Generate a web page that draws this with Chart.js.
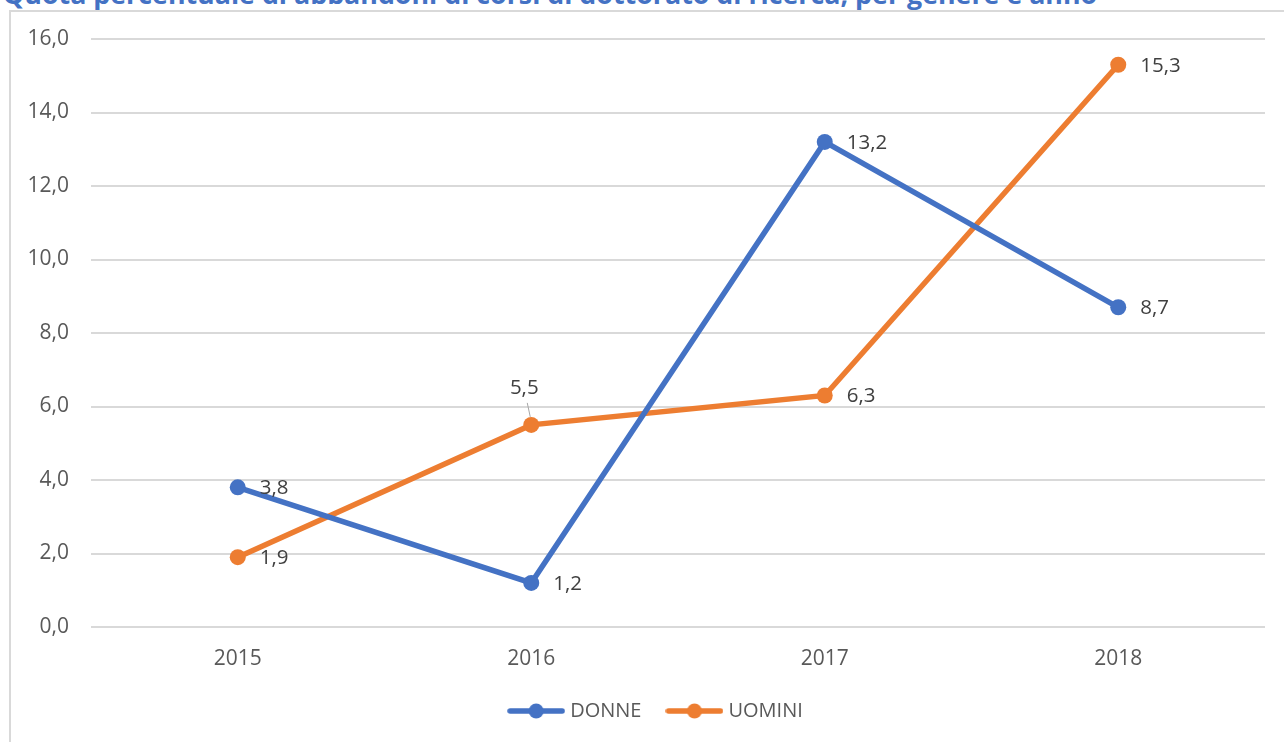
<!DOCTYPE html>
<html>
<head>
<meta charset="utf-8">
<script src="https://cdn.jsdelivr.net/npm/chart.js@4/dist/chart.umd.min.js"></script>
<style>
    html, body { margin: 0; padding: 0; background: #fff; overflow: hidden; }
    body { width: 1284px; height: 742px; position: relative; font-family: "Open Sans", sans-serif; }
    #title {
        position: absolute; left: 3px; top: -20px; white-space: nowrap;
        font: bold 26.8px "Open Sans", sans-serif; line-height: 27px; color: #4472C4;
    }
    #frame {
        position: absolute; left: 9px; top: 10px; width: 1300px; height: 760px;
        border: 2px solid #d9d9d9; box-sizing: border-box;
    }
    #wrap { position: absolute; left: 0; top: 0; width: 1284px; height: 742px; }
</style>
</head>
<body>
<div id="title">Quota percentuale di abbandoni di corsi di dottorato di ricerca, per genere e anno</div>
<div id="frame"></div>
<div id="wrap"><canvas id="chart" width="1284" height="742"></canvas></div>
<script>
// data
const years = ['2015', '2016', '2017', '2018'];
const donne = [3.8, 1.2, 13.2, 8.7];
const uomini = [1.9, 5.5, 6.3, 15.3];
const seriesNames = ['DONNE', 'UOMINI'];
const seriesColors = ['#4472C4', '#ED7D31'];
// where each value label sits relative to its point
const labelSides = [
    ['right', 'right', 'right', 'right'],
    ['right', 'above', 'right', 'right'],
];

function fmt(v) {
    return v.toFixed(1).replace('.', ',');
}

// legend marker: short line with a dot in the middle
function legendMarker(color) {
    var c = document.createElement('canvas');
    c.width = 58;
    c.height = 18;
    var g = c.getContext('2d');
    g.strokeStyle = color;
    g.lineWidth = 5.5;
    g.lineCap = 'round';
    g.beginPath();
    g.moveTo(3, 9);
    g.lineTo(55, 9);
    g.stroke();
    g.fillStyle = color;
    g.beginPath();
    g.arc(29, 9, 7.5, 0, Math.PI * 2);
    g.fill();
    return c;
}
const markers = seriesColors.map(legendMarker);

const valueLabels = {
    id: 'valueLabels',
    afterLayout(chart) {
        // nudge the legend a bit to the right, like the original
        chart.legend.left += 25;
        chart.legend.right += 25;
    },
    afterDatasetsDraw(chart) {
        const ctx = chart.ctx;
        ctx.save();
        ctx.font = '20.5px "Open Sans", sans-serif';
        ctx.fillStyle = '#404040';
        ctx.textBaseline = 'middle';
        chart.data.datasets.forEach((ds, i) => {
            const meta = chart.getDatasetMeta(i);
            meta.data.forEach((pt, j) => {
                const txt = fmt(ds.data[j]);
                if (labelSides[i][j] === 'above') {
                    ctx.strokeStyle = '#a6a6a6';
                    ctx.lineWidth = 1;
                    ctx.beginPath();
                    ctx.moveTo(pt.x - 1, pt.y - 8);
                    ctx.lineTo(pt.x - 4, pt.y - 22);
                    ctx.stroke();
                    ctx.textAlign = 'center';
                    ctx.fillText(txt, pt.x - 7, pt.y - 37);
                } else {
                    ctx.textAlign = 'left';
                    ctx.fillText(txt, pt.x + 22, pt.y + 1);
                }
            });
        });
        ctx.restore();
    }
};

const ctx = document.getElementById('chart').getContext('2d');
const chart = new Chart(ctx, {
    type: 'line',
    data: {
        labels: years,
        datasets: [donne, uomini].map((vals, i) => ({
            label: seriesNames[i],
            data: vals,
            borderColor: seriesColors[i],
            backgroundColor: seriesColors[i],
            borderWidth: 5.5,
            pointRadius: 8,
            pointHoverRadius: 8,
            pointBorderWidth: 0,
            tension: 0,
        })),
    },
    options: {
        responsive: false,
        animation: false,
        layout: { padding: { left: 0, right: 19, top: 39, bottom: 11 } },
        plugins: {
            title: { display: false },
            tooltip: { enabled: false },
            legend: {
                position: 'bottom',
                labels: {
                    usePointStyle: true,
                    pointStyleWidth: 48,
                    boxHeight: 16,
                    padding: 29,
                    color: '#595959',
                    font: { family: 'Open Sans', size: 20 },
                    generateLabels(chart) {
                        const items = Chart.defaults.plugins.legend.labels.generateLabels(chart);
                        items.forEach((it, i) => { it.pointStyle = markers[i]; });
                        return items;
                    },
                },
            },
        },
        scales: {
            x: {
                offset: true,
                grid: { display: false, drawTicks: false },
                border: { display: false },
                ticks: {
                    padding: 19,
                    color: '#595959',
                    font: { family: 'Open Sans', size: 21 },
                },
                afterFit(scale) { scale.height = 45; },
            },
            y: {
                min: 0,
                max: 16,
                grid: { color: '#d9d9d9', lineWidth: 2, drawTicks: false },
                border: { display: false },
                ticks: {
                    stepSize: 2,
                    padding: 22,
                    color: '#595959',
                    font: { family: 'Open Sans', size: 21 },
                    callback: (v) => fmt(v),
                },
                afterFit(scale) { scale.width = 91; },
            },
        },
    },
    plugins: [valueLabels],
});
</script>
</body>
</html>
